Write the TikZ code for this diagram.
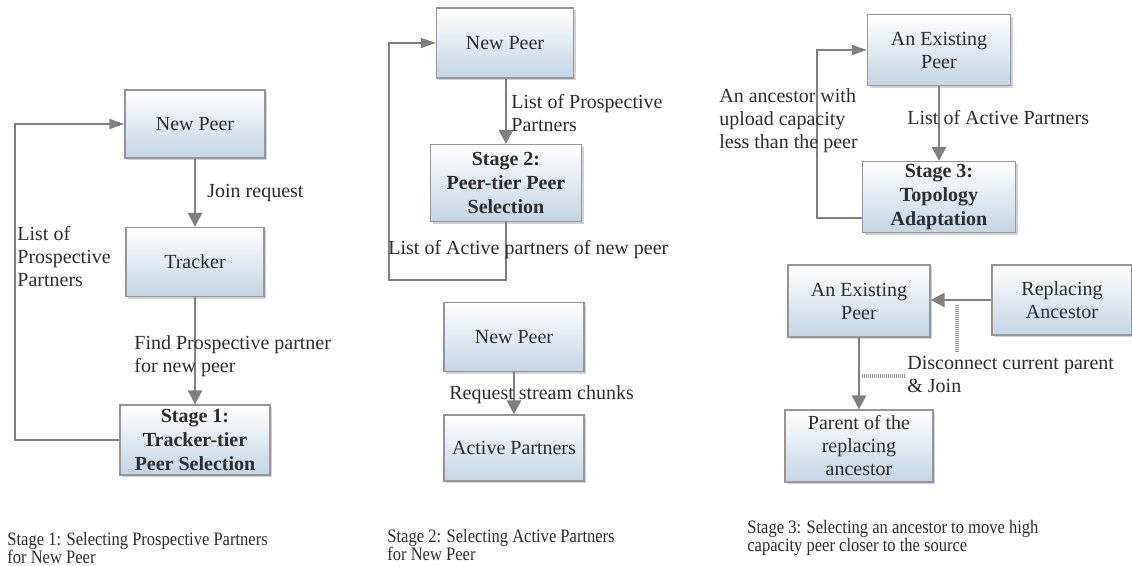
\documentclass[tikz,border=0pt]{standalone}
\usepackage{fontspec}
\setmainfont{Liberation Serif}
\newfontfamily\capfont[FakeStretch=0.87]{Liberation Serif}
\usepackage{tikz}
\usetikzlibrary{arrows.meta,shadows}

\definecolor{boxblue}{RGB}{196,213,226}
\definecolor{boxline}{RGB}{150,150,150}
\definecolor{arrowgray}{RGB}{128,128,128}
\definecolor{txtgray}{RGB}{45,45,45}

\tikzset{
  peerbox/.style={draw=boxline, line width=0.6pt, top color=white, bottom color=boxblue,
    drop shadow={shadow xshift=1.2pt, shadow yshift=-1.2pt, fill=black!35},
    align=center, text=txtgray, font=\fontsize{10}{11.5}\selectfont, inner sep=0pt},
  boldbox/.style={peerbox, font=\bfseries\fontsize{10}{12}\selectfont},
  mainflow/.style={draw=arrowgray, line width=1.4pt, -{Triangle[width=7pt,length=7pt]}},
  loopflow/.style={draw=arrowgray, line width=0.7pt, -{Triangle[width=5pt,length=7.5pt]}},
  callout/.style={draw=arrowgray!80, line width=1.8pt, dash pattern=on 0.5pt off 0.5pt},
  lbl/.style={text=txtgray, font=\fontsize{10}{11.5}\selectfont, align=left, inner sep=0pt},
  caption/.style={text=txtgray, font=\capfont\fontsize{9.5}{9}\selectfont, align=left, inner sep=0pt}
}

\begin{document}
\begin{tikzpicture}[x=0.5pt,y=-0.5pt]

\useasboundingbox (0,0) rectangle (1132,566);

% Stage 1 boxes
\node[peerbox, minimum width=70pt, minimum height=34pt] (np1) at (195,124) {New Peer};
\node[peerbox, minimum width=69pt, minimum height=34.5pt] (tracker) at (195,262) {Tracker};
\node[boldbox, minimum width=75pt, minimum height=35pt] (st1) at (195,440) {Stage 1:\\Tracker-tier\\Peer Selection};

% Stage 1 connectors
\draw[mainflow] (np1) -- (tracker);
\draw[mainflow] (tracker) -- (st1);
\draw[loopflow] (st1.west) -| (15,124) -- (np1.west);

% Stage 1 labels
\node[lbl, anchor=west] (joinlbl) at (207,193) {Join request};
\node[lbl, anchor=north west] (listlbl1) at (17,226) {List of\\Prospective\\Partners};
\node[lbl, anchor=north west] (findlbl) at (134,335) {Find Prospective partner\\for new peer};

% Stage 2 boxes
\node[peerbox, minimum width=68.5pt, minimum height=35pt] (np2) at (505,43) {New Peer};
\node[boldbox, minimum width=75.5pt, minimum height=38.5pt] (st2) at (506,183) {Stage 2:\\Peer-tier Peer\\Selection};
\node[peerbox, minimum width=70pt, minimum height=34.5pt] (np3) at (514,337) {New Peer};
\node[peerbox, minimum width=70pt, minimum height=33pt] (active) at (514,448) {Active Partners};

% Stage 2 connectors
\draw[mainflow] (np2.south -| st2) -- (st2);
\draw[loopflow] (st2.south) -- (506,280) -| (389,43) -- (np2.west);
\draw[mainflow] (np3) -- (active);

% Stage 2 labels
\node[lbl, anchor=north west] (listlbl2) at (511,94) {List of Prospective\\Partners};
\node[lbl, anchor=west] (activelbl) at (388,250) {List of Active partners of new peer};
\node[lbl, anchor=west] (reqlbl) at (449,395) {Request stream chunks};

% Stage 3 boxes
\node[peerbox, minimum width=71.5pt, minimum height=35.5pt] (ep1) at (939,50) {An Existing\\Peer};
\node[boldbox, minimum width=76.5pt, minimum height=35.5pt] (st3) at (939,197) {Stage 3:\\Topology\\Adaptation};
\node[peerbox, minimum width=71pt, minimum height=36pt] (ep2) at (859,301) {An Existing\\Peer};
\node[peerbox, minimum width=70pt, minimum height=35pt] (repl) at (1062,300) {Replacing\\Ancestor};
\node[peerbox, minimum width=74pt, minimum height=36pt] (parent) at (859,446) {Parent of the\\replacing\\ancestor};

% Stage 3 connectors
\draw[mainflow] (ep1) -- (st3);
\draw[loopflow] (st3.west |- 0,218) -- (817,218) |- (ep1.west);
\draw[mainflow] (repl.west) -- (ep2.east |- repl.west);
\draw[mainflow] (ep2) -- (parent);

% Stage 3 labels
\node[lbl, anchor=north west] (anclbl) at (719,88) {An ancestor with\\upload capacity\\less than the peer};
\node[lbl, anchor=west] (listlbl3) at (907,118) {List of Active Partners};
\node[lbl, anchor=north west] (disclbl) at (907,356) {Disconnect current parent\\\& Join};

% Callout lines to the label
\coordinate (c1) at (957,305);
\coordinate (c2) at (957,352);
\coordinate (c3) at (862,376);
\coordinate (c4) at (906,376);
\draw[callout] (c1) -- (c2);
\draw[callout] (c3) -- (c4);

% Captions
\node[caption, anchor=north west] (cap1) at (7,532) {Stage 1: Selecting Prospective Partners\\for New Peer};
\node[caption, anchor=north west] (cap2) at (387,529) {Stage 2: Selecting Active Partners\\for New Peer};
\node[caption, anchor=north west] (cap3) at (747,520) {Stage 3: Selecting an ancestor to move high\\capacity peer closer to the source};

\end{tikzpicture}
\end{document}
